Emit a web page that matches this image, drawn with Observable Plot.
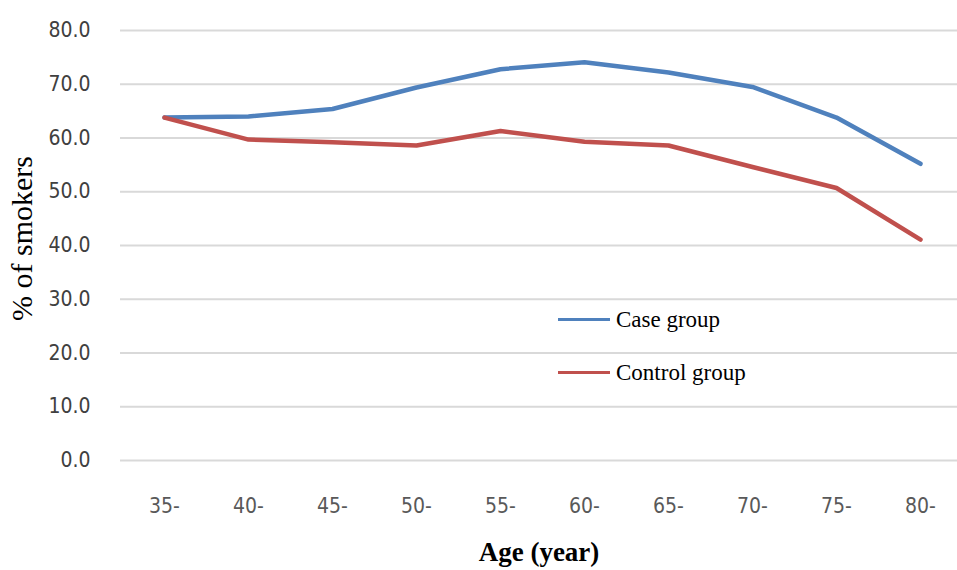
<!DOCTYPE html>
<html>
<head>
<meta charset="utf-8">
<script src="https://cdn.jsdelivr.net/npm/d3@7"></script>
<script src="https://cdn.jsdelivr.net/npm/@observablehq/plot@0.6"></script>
<style>
  html, body { margin: 0; padding: 0; background: #fff; }
  #wrap { position: relative; width: 957px; height: 570px; overflow: hidden; }
  .legend { position: absolute; left: 558px; top: 293px; font-family: "Liberation Serif", "Times New Roman", serif; font-size: 23px; color: #000; }
  .legend .item { display: flex; align-items: center; height: 53px; }
  .legend .sw { width: 52px; height: 3px; margin-right: 6px; }
</style>
</head>
<body>
<div id="wrap"></div>
<script>
const ages = ["35-", "40-", "45-", "50-", "55-", "60-", "65-", "70-", "75-", "80-"];
const caseGroup = [63.8, 64.0, 65.4, 69.4, 72.8, 74.1, 72.2, 69.5, 63.8, 55.2];
const controlGroup = [63.8, 59.7, 59.2, 58.6, 61.3, 59.3, 58.6, 54.6, 50.7, 41.1];
const seriesNames = ["Case group", "Control group"];
const seriesColors = ["#4F81BD", "#C0504D"];
const yTicks = [0, 10, 20, 30, 40, 50, 60, 70, 80];

const rows = [];
ages.forEach((a, i) => {
  rows.push({age: a, value: caseGroup[i], series: seriesNames[0]});
  rows.push({age: a, value: controlGroup[i], series: seriesNames[1]});
});

const tickFont = '"Liberation Sans Narrow", "DejaVu Sans Condensed", "Arial Narrow", sans-serif';

const chart = Plot.plot({
  width: 957,
  height: 570,
  marginLeft: 120,
  marginRight: 0,
  marginTop: 30,
  marginBottom: 110,
  style: {background: "transparent", overflow: "visible"},
  x: {type: "point", domain: ages, range: [163, 921], padding: 0},
  y: {domain: [0, 80]},
  color: {domain: seriesNames, range: seriesColors},
  marks: [
    Plot.ruleY(yTicks, {stroke: "#d9d9d9", strokeWidth: 2}),
    Plot.axisY(yTicks, {tickSize: 0, tickPadding: 30, tickFormat: d => d.toFixed(1), fontSize: 21, fontFamily: tickFont, fill: "#404040", label: null}),
    Plot.axisX({tickSize: 0, tickPadding: 38, fontSize: 21, fontFamily: tickFont, fill: "#595959", label: null}),
    Plot.lineY(rows, {x: "age", y: "value", z: "series", stroke: "series", strokeWidth: 4.5, strokeLinejoin: "round", strokeLinecap: "round"}),
    Plot.text(["% of smokers"], {frameAnchor: "left", textAnchor: "middle", rotate: -90, dx: -98, dy: -7, fontSize: 30, fontFamily: '"Liberation Serif", "Times New Roman", serif', fill: "#000"}),
    Plot.text(["Age (year)"], {frameAnchor: "bottom", dy: 100, fontSize: 27, fontWeight: "bold", fontFamily: '"Liberation Serif", "Times New Roman", serif', fill: "#000"})
  ]
});

const wrap = document.getElementById("wrap");
wrap.appendChild(chart);

const legend = document.createElement("div");
legend.className = "legend";
seriesNames.forEach((name, i) => {
  const item = document.createElement("div");
  item.className = "item";
  const sw = document.createElement("span");
  sw.className = "sw";
  sw.style.background = seriesColors[i];
  const label = document.createElement("span");
  label.textContent = name;
  item.appendChild(sw);
  item.appendChild(label);
  legend.appendChild(item);
});
wrap.appendChild(legend);
</script>
</body>
</html>
